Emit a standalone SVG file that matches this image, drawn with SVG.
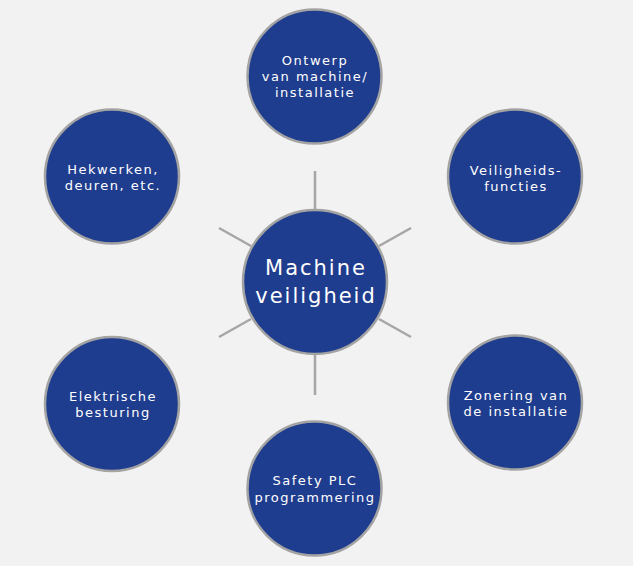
<svg xmlns="http://www.w3.org/2000/svg" width="633" height="566" viewBox="0 0 633 566">
<style>
.node{fill:#1f3d8e;stroke:#a3a3a3;stroke-width:2.5}
.t{font-family:"DejaVu Sans",Verdana,sans-serif;font-size:13px;letter-spacing:1.5px;fill:#ffffff;text-anchor:middle}
.tc{font-family:"DejaVu Sans",Verdana,sans-serif;font-size:21px;letter-spacing:2px;fill:#ffffff;text-anchor:middle}
.conn line{stroke:#a6a6a6;stroke-width:2.5}
</style>
<rect width="633" height="566" fill="#f2f2f2"/>
<g class="conn" id="connectors">
<line x1="315" y1="171" x2="315" y2="209"/>
<line x1="315" y1="355" x2="315" y2="395"/>
<line x1="219" y1="228" x2="251" y2="246"/>
<line x1="411" y1="228" x2="379" y2="246"/>
<line x1="219" y1="337" x2="251" y2="319"/>
<line x1="411" y1="337" x2="379" y2="319"/>
</g>
<g id="center">
<circle class="node" cx="315" cy="282" r="72"/>
<text class="tc" x="316" y="275">Machine</text>
<text class="tc" x="316" y="303">veiligheid</text>
</g>
<g id="ontwerp">
<circle class="node" cx="314.5" cy="76.5" r="67"/>
<text class="t" x="315" y="65">Ontwerp</text>
<text class="t" x="315" y="81">van machine/</text>
<text class="t" x="315" y="97">installatie</text>
</g>
<g id="veiligheidsfuncties">
<circle class="node" cx="515" cy="176.5" r="67"/>
<text class="t" x="516" y="175">Veiligheids-</text>
<text class="t" x="516" y="191">functies</text>
</g>
<g id="zonering">
<circle class="node" cx="515" cy="402.5" r="67"/>
<text class="t" x="516" y="400">Zonering van</text>
<text class="t" x="516" y="416">de installatie</text>
</g>
<g id="safetyplc">
<circle class="node" cx="314.5" cy="488.5" r="67"/>
<text class="t" x="315" y="485">Safety PLC</text>
<text class="t" x="315" y="502">programmering</text>
</g>
<g id="elektrische">
<circle class="node" cx="112" cy="404" r="67"/>
<text class="t" x="113" y="401">Elektrische</text>
<text class="t" x="113" y="417">besturing</text>
</g>
<g id="hekwerken">
<circle class="node" cx="112" cy="176.5" r="67"/>
<text class="t" x="113" y="174">Hekwerken,</text>
<text class="t" x="113" y="190">deuren, etc.</text>
</g>
</svg>
